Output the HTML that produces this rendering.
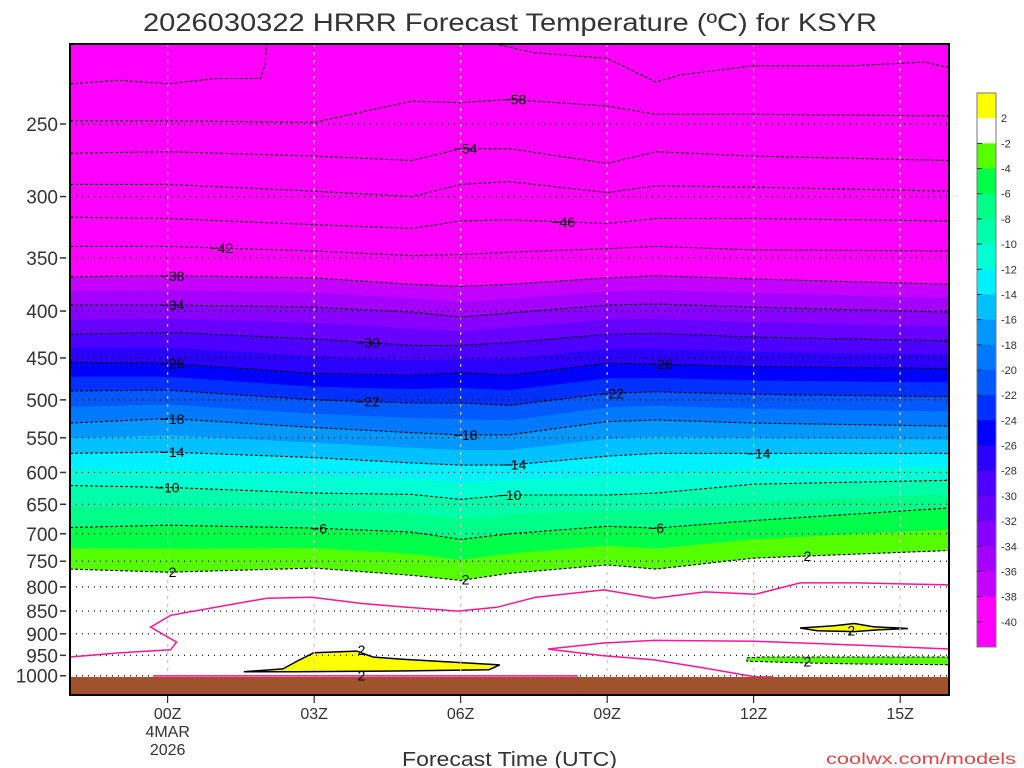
<!DOCTYPE html>
<html><head><meta charset="utf-8"><style>
html,body{margin:0;padding:0;background:#fff;}
svg{display:block;font-family:"Liberation Sans",sans-serif;}
</style></head><body>
<svg id="chart" width="1024" height="768" viewBox="0 0 1024 768">
<defs><clipPath id="plotclip"><rect x="70" y="44" width="879" height="651"/></clipPath></defs>
<text x="143" y="31" textLength="734" lengthAdjust="spacingAndGlyphs" font-size="25" fill="#333">2026030322 HRRR Forecast Temperature (ºC) for KSYR</text>
<g id="fills" clip-path="url(#plotclip)"></g>
<g id="grid"></g>
<g id="lines" clip-path="url(#plotclip)"></g>
<g id="labels"></g>
<rect x="70" y="44" width="879" height="651" fill="none" stroke="#000" stroke-width="2"/>
<g id="yaxis"></g>
<g id="xaxis"></g>
<text x="402" y="766" textLength="215" lengthAdjust="spacingAndGlyphs" font-size="20" fill="#333">Forecast Time (UTC)</text>
<text x="826" y="764" textLength="190" lengthAdjust="spacingAndGlyphs" font-size="16" fill="#e34444">coolwx.com/models</text>
<g id="cbar"></g>
</svg>
<script>
const hours=[-2,0,3,5,6,7,9,10,12,16];
const levels=[-58,-54,-50,-46,-42,-38,-34,-30,-26,-22,-18,-14,-10,-6,-2];
const iso_m62a_h=[-2,-1,0,1,1.9,2.0,2.05];
const iso_m62a_p=[226,224,226,223,223,215,195];
const iso_m62b_h=[6.75,6.8,7.5,9,10,10.5,12,14,15.5,16];
const iso_m62b_p=[195,205,209,212,225,221,216,216,214,217];
const iso_m58=[248,248,249,236,237,235,239,244,244,245];
const iso_m54=[269,268,271,274,266,266,276,268,271,274];
const iso_m50=[291,291,296,300,291,289,297,292,293,296];
const iso_m46=[316,317,322,325,319,318,321,317,317,319];
const iso_m42=[340,340,344,348,347,345,342,340,343,344];
const iso_m38=[367,366,368,374,376,374,368,366,369,374];
const iso_m34=[394,394,396,401,406,402,394,393,396,401];
const iso_m30=[424,422,429,436,436,433,424,423,427,431];
const iso_m26=[455,456,468,470,467,470,456,457,460,462];
const iso_m22=[489,488,500,504,504,507,492,490,493,496];
const iso_m18=[530,524,536,543,546,546,528,526,530,534];
const iso_m14=[572,570,578,586,589,589,576,572,572,572];
const iso_m10=[620,623,632,634,642,635,635,632,618,612];
const iso_m6=[689,685,690,697,710,700,687,690,677,656];
const iso_m2=[765,771,763,777,787,773,757,765,744,730];
const isoSeries=[iso_m58,iso_m54,iso_m50,iso_m46,iso_m42,iso_m38,iso_m34,iso_m30,iso_m26,iso_m22,iso_m18,iso_m14,iso_m10,iso_m6,iso_m2];
const surfacePressure=1003;
const zero1_h=[-2,-0.96,0.06,0.18,-0.35,0.06,0.98,2.03,2.95,3.98,4.9,5.94,6.74,7.54,8.93,9.96,11.0,12.03,12.95,14.12,16];
const zero1_p=[954,944,937,919,885,859,842,823,821,834,842,850,842,821,806,823,810,815,792,792,796];
const zero2_h=[16,14.12,12.03,9.96,8.93,7.79,7.89,8.93,9.96,11.0,12.03,12.38];
const zero2_p=[935,926,917,915,921,935,937,951,961,981,1003,1003];
const warm1_h=[1.56,2.36,2.70,2.99,3.87,4.2,4.77,6.05,6.8,6.58,4.9,2.6];
const warm1_p=[990,983,961,944,940,954,959,968,973,985,988,990];
const warm2_h=[12.95,13.65,14.06,14.45,15.16,14.57,14.06,13.3];
const warm2_p=[887,882,877,884,888,891,895,893];
const cold1_h=[11.86,12.15,16.5,16.5,14.12,12.95,11.86];
const cold1_p=[956,954,954,973,971,968,964];
const tickHours=[0,3,6,9,12,15];
const tickHourLabels=["00Z","03Z","06Z","09Z","12Z","15Z"];
const pressureTicks=[250,300,350,400,450,500,550,600,650,700,750,800,850,900,950,1000];
const cbarLabels=["2","-2","-4","-6","-8","-10","-12","-14","-16","-18","-20","-22","-24","-26","-28","-30","-32","-34","-36","-38","-40"];
const cbarColors=["#ffff00","#ffffff","#55ff00","#00ff48","#00ff88","#00ffaa","#00ffd5","#00f0ff","#00c0ff","#0098ff","#0078ff","#0058ff","#0030ff","#0000ff","#2a00ff","#4c00ff","#6800ff","#8800ff","#a400ff","#c400ff","#ff00ff","#ff00ff"];
const labelPlaces=[[-58,7.1],[-54,6.1],[-46,8.1],[-42,1.1],[-38,0.1],[-34,0.1],[-30,4.1],[-26,0.1],[-26,10.1],[-22,4.1],[-22,9.1],[-18,0.1],[-18,6.1],[-14,0.1],[-14,7.1],[-14,12.1],[-10,0.0],[-10,7.0],[-6,3.1],[-6,10.0],[-2,0.1],[-2,6.1],[-2,13.1]];
const warmLabelH=[3.97,3.97,14.0,13.1];
const warmLabelP=[937,1000,893,965];

const NS="http://www.w3.org/2000/svg";
function X(h){return 70+(h+2)*879/18;}
function Y(p){return 124+398*Math.log(p/250);}
function mk(tag,attrs,parent){const e=document.createElementNS(NS,tag);for(const k in attrs)e.setAttribute(k,attrs[k]);parent.appendChild(e);return e;}
function pathOf(ps){return hours.map((h,i)=>(i?"L":"M")+X(h).toFixed(1)+","+Y(ps[i]).toFixed(1)).join(" ");}
function polyPath(hs,ps,close){return hs.map((h,i)=>(i?"L":"M")+X(h).toFixed(1)+","+Y(ps[i]).toFixed(1)).join(" ")+(close?" Z":"");}
function interpP(ps,h){for(let i=0;i<hours.length-1;i++){if(h>=hours[i]&&h<=hours[i+1]){const t=(h-hours[i])/(hours[i+1]-hours[i]);return ps[i]+t*(ps[i+1]-ps[i]);}}return ps[ps.length-1];}
function series(l){return isoSeries[levels.indexOf(l)];}

const fills=document.getElementById('fills');
const bg=mk('rect',{x:70,y:44,width:879,height:651,fill:'#ff00ff'},fills);


const bandColor={"-38":"#c400ff","-36":"#a400ff","-34":"#8800ff","-32":"#6800ff","-30":"#4c00ff","-28":"#2a00ff","-26":"#0000ff","-24":"#0030ff","-22":"#0058ff","-20":"#0078ff","-18":"#0098ff","-16":"#00c0ff","-14":"#00f0ff","-12":"#00ffd5","-10":"#00ffaa","-8":"#00ff88","-6":"#00ff48","-4":"#55ff00","-2":"#ffffff"};
for(let L=-38;L<=-2;L+=2){
  let ps;
  if(levels.includes(L)) ps=series(L);
  else{const a=series(L-2),b=series(L+2);ps=a.map((v,i)=>Math.sqrt(v*b[i]));}
  const d=pathOf(ps)+" L"+X(16.5)+","+700+" L"+X(-2.5)+",700 Z";
  const e=mk('path',{d:d,fill:bandColor[String(L)]},fills);
  
  
}
const w1=mk('path',{d:polyPath(warm1_h,warm1_p,true),fill:'#ffff00',stroke:'#000','stroke-width':1.5},fills);


const w2=mk('path',{d:polyPath(warm2_h,warm2_p,true),fill:'#ffff00',stroke:'#000','stroke-width':1.5},fills);


const c1=mk('path',{d:polyPath(cold1_h,cold1_p,true),fill:'#55ff00',stroke:'#000','stroke-width':1,'stroke-dasharray':'3,2'},fills);



const grid=document.getElementById('grid');
pressureTicks.forEach(p=>{
  const l=mk('line',{x1:70,x2:949,y1:Y(p),y2:Y(p),stroke:'#000','stroke-width':1.2,'stroke-dasharray':'1,5'},grid);
  
  
});
tickHours.forEach(h=>{
  const l=mk('line',{x1:X(h),x2:X(h),y1:44,y2:695,stroke:'#c8c8c8','stroke-width':1.2,'stroke-dasharray':'3,5'},grid);
  
  
});

const lines=document.getElementById('lines');
levels.forEach((L,i)=>{
  const e=mk('path',{d:pathOf(isoSeries[i]),fill:'none',stroke:'#000','stroke-width':1.1,'stroke-dasharray':'3,2'},lines);
  
  
});
const t62a=mk('path',{d:polyPath(iso_m62a_h,iso_m62a_p,false),fill:'none',stroke:'#000','stroke-width':1.1,'stroke-dasharray':'3,2'},lines);


const t62b=mk('path',{d:polyPath(iso_m62b_h,iso_m62b_p,false),fill:'none',stroke:'#000','stroke-width':1.1,'stroke-dasharray':'3,2'},lines);


const z1=mk('path',{d:polyPath(zero1_h,zero1_p,false),fill:'none',stroke:'#ff1493','stroke-width':1.5},lines);


const z2=mk('path',{d:polyPath(zero2_h,zero2_p,false),fill:'none',stroke:'#ff1493','stroke-width':1.5},lines);


const gp=Y(surfacePressure);
const z3=mk('line',{x1:X(-0.3),x2:X(8.4),y1:gp-1,y2:gp-1,stroke:'#ff1493','stroke-width':1.5},lines);


const gr=mk('rect',{x:70,y:gp,width:879,height:700-gp,fill:'#a0522d'},lines);



const labels=document.getElementById('labels');
labelPlaces.forEach(([L,h])=>{
  const p=interpP(series(L),h);
  const t=mk('text',{x:X(h),y:Y(p)+5,'text-anchor':'middle','font-size':14,fill:'#000'},labels);
  t.textContent=(L===-2)?'2':String(L).replace('-','\u2212');
  
  
});
warmLabelH.forEach((h,i)=>{
  const t=mk('text',{x:X(h),y:Y(warmLabelP[i])+5,'text-anchor':'middle','font-size':14,fill:'#000'},labels);
  t.textContent='2';
  
  
});

const yaxis=document.getElementById('yaxis');
pressureTicks.forEach(p=>{
  const t=mk('text',{x:58,y:Y(p)+7,'text-anchor':'end','font-size':19,fill:'#333'},yaxis);
  t.textContent=String(p);
  
  
  const k=mk('line',{x1:60,x2:66,y1:Y(p),y2:Y(p),stroke:'#333','stroke-width':1.5},yaxis);
  
  
});
const xaxis=document.getElementById('xaxis');
tickHours.forEach((h,i)=>{
  const k=mk('line',{x1:X(h),x2:X(h),y1:695,y2:703,stroke:'#000','stroke-width':1},xaxis);
  
  
  const t=mk('text',{x:X(h),y:719,'text-anchor':'middle','font-size':16,fill:'#333'},xaxis);
  t.textContent=tickHourLabels[i];
  
  
});
const d1=mk('text',{x:X(0),y:737,'text-anchor':'middle','font-size':16,fill:'#333'},xaxis);
d1.textContent='4MAR';


const d2=mk('text',{x:X(0),y:755,'text-anchor':'middle','font-size':16,fill:'#333'},xaxis);
d2.textContent='2026';



const cbar=document.getElementById('cbar');
const bh=(647-93)/cbarColors.length;
cbarColors.forEach((c,i)=>{
  const r=mk('rect',{x:977,y:93+i*bh,width:19,height:bh+0.5,fill:c},cbar);
  
  
});
const cf=mk('rect',{x:977,y:93,width:19,height:554,fill:'none',stroke:'#777','stroke-width':1},cbar);


cbarLabels.forEach((s,i)=>{
  const yy=93+(i+1)*bh;
  const t=mk('text',{x:1001,y:yy+4,'font-size':11,fill:'#333'},cbar);
  t.textContent=s;
  
  
  if(i>0){const k=mk('line',{x1:977,x2:982,y1:yy,y2:yy,stroke:'#333','stroke-width':1},cbar);
  
  }
});
</script>
</body></html>
